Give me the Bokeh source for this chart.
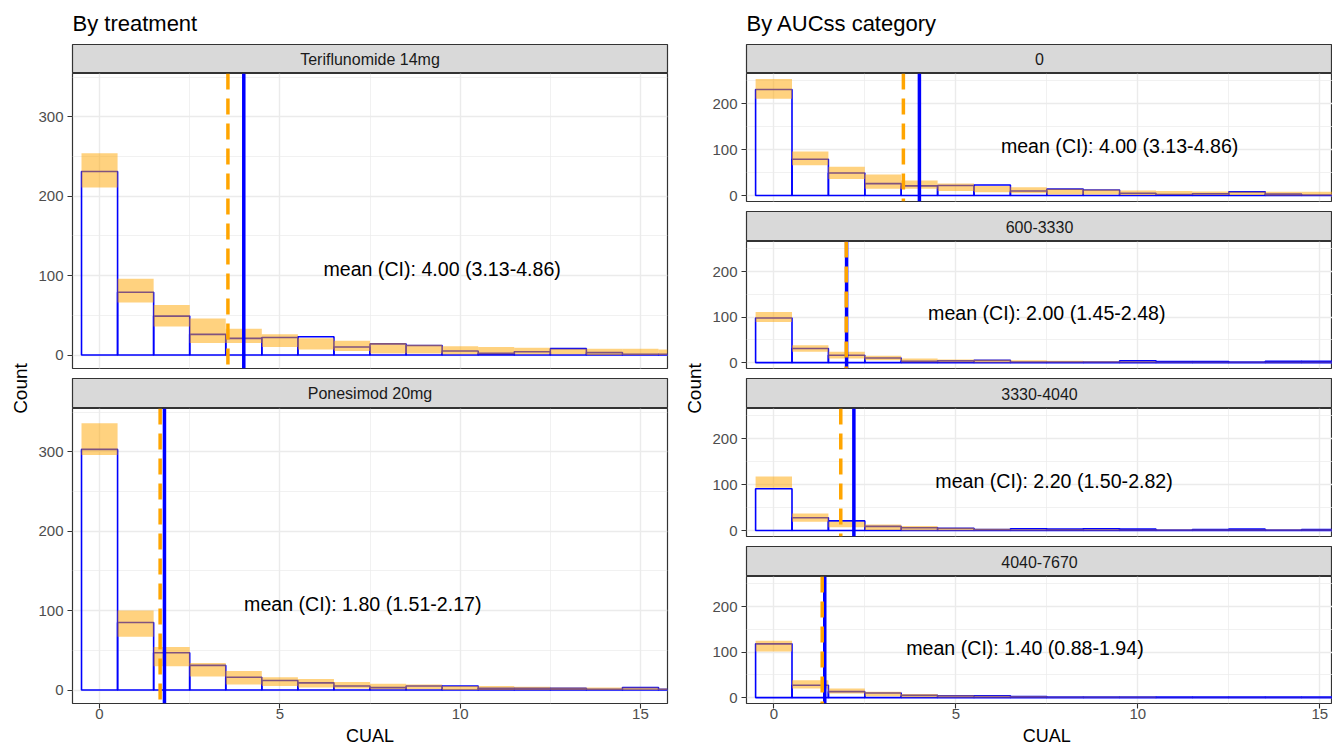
import math
from bokeh.plotting import figure
from bokeh.models import Range1d, FixedTicker, Span
from bokeh.layouts import row, column
from bokeh.embed import file_html
from bokeh.resources import INLINE
from bokeh.core.properties import value

# ---------------- data ----------------
cual = list(range(17))

# By treatment
teri_obs = [231, 79, 49, 26, 21, 22, 23, 10, 14, 12, 5, 2, 4, 8, 3, 1, 1]
teri_lo = [211, 66, 36, 15, 15, 10, 7, 5, 2, 2, 1, 1, 1, 1, 0, 0, 0]
teri_hi = [254, 96, 63, 46, 33, 26, 21, 18, 15, 13, 11, 10, 9, 8, 8, 8, 7]

pone_obs = [303, 85, 47, 31, 16, 12, 9, 5, 3, 5, 5, 2, 2, 2, 1, 3, 1]
pone_lo = [296, 67, 30, 17, 7, 5, 3, 2, 1, 1, 0, 0, 0, 0, 0, 0, 0]
pone_hi = [336, 100, 54, 34, 24, 16, 14, 10, 8, 7, 5, 5, 4, 3, 3, 3, 2]

# By AUCss category
auc0_obs = [231, 79, 49, 26, 21, 22, 23, 10, 14, 12, 5, 2, 4, 8, 3, 1, 1]
auc0_lo = [211, 66, 36, 15, 15, 10, 7, 5, 2, 2, 1, 1, 1, 1, 0, 0, 0]
auc0_hi = [254, 96, 63, 46, 33, 26, 21, 18, 15, 13, 11, 10, 9, 8, 8, 8, 7]

auc1_obs = [98, 31, 16, 10, 3, 4, 5, 1, 1, 1, 4, 2, 2, 1, 3, 3, 1]
auc1_lo = [89, 24, 9, 5, 1, 1, 0, 0, 0, 0, 0, 0, 0, 0, 0, 0, 0]
auc1_hi = [111, 38, 24, 15, 9, 7, 6, 5, 4, 3, 3, 2, 2, 2, 2, 2, 2]

auc2_obs = [91, 28, 21, 9, 6, 5, 2, 4, 3, 4, 3, 1, 2, 3, 1, 2, 1]
auc2_lo = [93, 19, 7, 1, 0, 0, 0, 0, 0, 0, 0, 0, 0, 0, 0, 0, 0]
auc2_hi = [118, 37, 19, 13, 10, 6, 4, 3, 3, 3, 2, 2, 2, 2, 2, 2, 2]

auc3_obs = [118, 27, 13, 10, 5, 4, 4, 2, 1, 1, 1, 1, 1, 1, 1, 1, 1]
auc3_lo = [101, 20, 9, 3, 1, 0, 0, 0, 0, 0, 0, 0, 0, 0, 0, 0, 0]
auc3_hi = [125, 38, 20, 13, 8, 5, 4, 3, 2, 2, 2, 1, 1, 1, 1, 1, 1]

treat_labels = ["Teriflunomide 14mg", "Ponesimod 20mg"]
treat_mean = [4.00, 1.80]
treat_ci_lo = [3.13, 1.51]
treat_ci_hi = [4.86, 2.17]
treat_sim_mean = [3.56, 1.68]

auc_labels = ["0", "600-3330", "3330-4040", "4040-7670"]
auc_mean = [4.00, 2.00, 2.20, 1.40]
auc_ci_lo = [3.13, 1.45, 1.50, 0.88]
auc_ci_hi = [4.86, 2.48, 2.82, 1.94]
auc_sim_mean = [3.56, 1.99, 1.84, 1.33]

x_ticks = [0, 5, 10, 15]
x_minor = [2.5, 7.5, 12.5]
left_y_ticks = [0, 100, 200, 300]
left_y_minor = [50, 150, 250, 350]
right_y_ticks = [0, 100, 200]
right_y_minor = [50, 150, 250]

# ---------------- style ----------------
FONT = "Liberation Sans"
BLUE = "#0000FF"
ORANGE = "#FFA500"
GRID = "#EBEBEB"
BORDER = "#333333"
X_START = -0.75
X_MID = 7.5


def make_strip(text, width, bl, br, title=None):
    top = 43 if title else 0
    p = figure(width=width, height=30 + top, x_range=Range1d(0, 1), y_range=Range1d(0, 1),
               toolbar_location=None, output_backend="svg",
               x_axis_location=None, y_axis_location=None,
               min_border_left=bl, min_border_right=br, min_border_top=top,
               min_border_bottom=0, title=title)
    p.grid.visible = False
    p.background_fill_color = "#D9D9D9"
    p.outline_line_color = BORDER
    p.outline_line_width = 1.2
    p.text(x=[0.5], y=[0.5], text=[text], text_align="center", text_baseline="middle",
           text_font=value(FONT), text_font_size="16px", text_color="#1A1A1A")
    if title:
        p.title.text_font = FONT
        p.title.text_font_size = "22px"
        p.title.text_font_style = "normal"
        p.title.text_color = "black"
        p.title.align = "left"
        p.title.standoff = 17
        p.title.offset = 0
    return p


def make_panel(width, height, bl, br, bb, xend, yr, yticks, yminor,
               obs, lo, hi, m_obs, m_sim, label, label_y, xaxis):
    p = figure(width=width, height=height, x_range=Range1d(X_START, xend), y_range=Range1d(*yr),
               toolbar_location=None, output_backend="svg",
               x_axis_location="below" if xaxis else None,
               min_border_left=bl, min_border_right=br, min_border_top=0, min_border_bottom=bb)
    p.outline_line_color = BORDER
    p.outline_line_width = 1.2
    xt = FixedTicker(ticks=x_ticks, minor_ticks=x_minor)
    yt = FixedTicker(ticks=yticks, minor_ticks=yminor)
    p.xgrid.ticker = xt
    p.ygrid.ticker = yt
    p.yaxis.ticker = yt
    for ax in p.yaxis:
        ax.major_label_standoff = 4
    axes = list(p.yaxis)
    if xaxis:
        p.xaxis.ticker = xt
        for ax in p.xaxis:
            ax.major_label_standoff = 0
        axes += list(p.xaxis)
    for ax in axes:
        ax.axis_line_color = None
        ax.major_tick_out = 5
        ax.major_tick_in = 0
        ax.minor_tick_out = 0
        ax.minor_tick_in = 0
        ax.major_tick_line_color = BORDER
        ax.major_tick_line_width = 1.1
        ax.major_label_text_font = FONT
        ax.major_label_text_font_size = "15px"
        ax.major_label_text_color = "#4D4D4D"
    p.grid.grid_line_color = GRID
    p.grid.grid_line_width = 1.4
    p.grid.minor_grid_line_color = GRID
    p.grid.minor_grid_line_width = 0.7

    p.vbar(x=cual, width=1, bottom=0, top=obs, fill_color=None, line_color=BLUE, line_width=1.6)
    p.vbar(x=cual, width=1, bottom=lo, top=hi, fill_color=ORANGE, fill_alpha=0.5, line_color=None)
    p.add_layout(Span(location=m_obs, dimension="height", line_color=BLUE, line_width=3.5))
    p.add_layout(Span(location=m_sim, dimension="height", line_color=ORANGE, line_width=3.5,
                      line_dash="16 9"))
    p.text(x=[m_obs + 5.5], y=[label_y], text=[label], text_align="center",
           text_baseline="middle", text_font=value(FONT), text_font_size="19.6px",
           text_color="black")
    return p


def make_xlabel(width, height, bl, br, xend):
    p = figure(width=width, height=height, x_range=Range1d(X_START, xend),
               y_range=Range1d(0, height), toolbar_location=None, output_backend="svg",
               x_axis_location=None, y_axis_location=None,
               min_border_left=bl, min_border_right=br, min_border_top=0, min_border_bottom=0)
    p.grid.visible = False
    p.outline_line_color = None
    p.text(x=[X_MID], y=[height / 2], text=["CUAL"], text_align="center",
           text_baseline="middle", text_font=value(FONT), text_font_size="18px",
           text_color="black")
    return p


def make_count(width, height, cx):
    p = figure(width=width, height=height, x_range=Range1d(0, width), y_range=Range1d(0, height),
               toolbar_location=None, output_backend="svg",
               x_axis_location=None, y_axis_location=None, min_border=0)
    p.grid.visible = False
    p.outline_line_color = None
    p.text(x=[cx], y=[height - 388], text=["Count"], angle=math.pi / 2,
           text_align="center", text_baseline="middle", text_font=value(FONT),
           text_font_size="19px", text_color="black")
    return p


def fmt(m, lo, hi):
    return f"mean (CI): {m:.2f} ({lo:.2f}-{hi:.2f})"


AXIS_B = 22
XLAB_H = 21

# ---------------- left column ----------------
LW, LBL, LBR = 641, 38, 8
LYR = (-17, 354.5)
left_data = [(teri_obs, teri_lo, teri_hi), (pone_obs, pone_lo, pone_hi)]
left_frame_h = [295, 295]
left_items = []
for i in range(2):
    left_items.append(make_strip(treat_labels[i], LW, LBL, LBR,
                                 title="By treatment" if i == 0 else None))
    obs, lo, hi = left_data[i]
    last = i == 1
    bb = AXIS_B if last else 10
    left_items.append(make_panel(LW, left_frame_h[i] + bb, LBL, LBR, bb, 15.75,
                                 LYR, left_y_ticks, left_y_minor, obs, lo, hi,
                                 treat_mean[i], treat_sim_mean[i],
                                 fmt(treat_mean[i], treat_ci_lo[i], treat_ci_hi[i]), 108,
                                 last))
left_items.append(make_xlabel(LW, XLAB_H, LBL, LBR, 15.75))
left_col = column(*left_items, spacing=0)

# ---------------- right column ----------------
RW, RBL, RBR = 623, 37, 0
RYR = (-13, 266)
right_data = [(auc0_obs, auc0_lo, auc0_hi), (auc1_obs, auc1_lo, auc1_hi),
              (auc2_obs, auc2_lo, auc2_hi), (auc3_obs, auc3_lo, auc3_hi)]
frame_h = [128, 127, 128, 127]
right_items = []
xend_r = X_START + (RW - RBL - RBR) / 36.4
for i in range(4):
    right_items.append(make_strip(auc_labels[i], RW, RBL, RBR,
                                  title="By AUCss category" if i == 0 else None))
    obs, lo, hi = right_data[i]
    last = i == 3
    bb = AXIS_B if last else 10
    right_items.append(make_panel(RW, frame_h[i] + bb, RBL, RBR, bb, xend_r, RYR,
                                  right_y_ticks, right_y_minor,
                                  obs, lo, hi, auc_mean[i], auc_sim_mean[i],
                                  fmt(auc_mean[i], auc_ci_lo[i], auc_ci_hi[i]), 109,
                                  last))
right_items.append(make_xlabel(RW, XLAB_H, RBL, RBR, xend_r))
right_col = column(*right_items, spacing=0)

count_l = make_count(34, 746, 20)
count_r = make_count(34, 746, 19)

page = row(count_l, left_col, count_r, right_col, spacing=0)

open("out.html", "w").write(file_html(page, INLINE))
